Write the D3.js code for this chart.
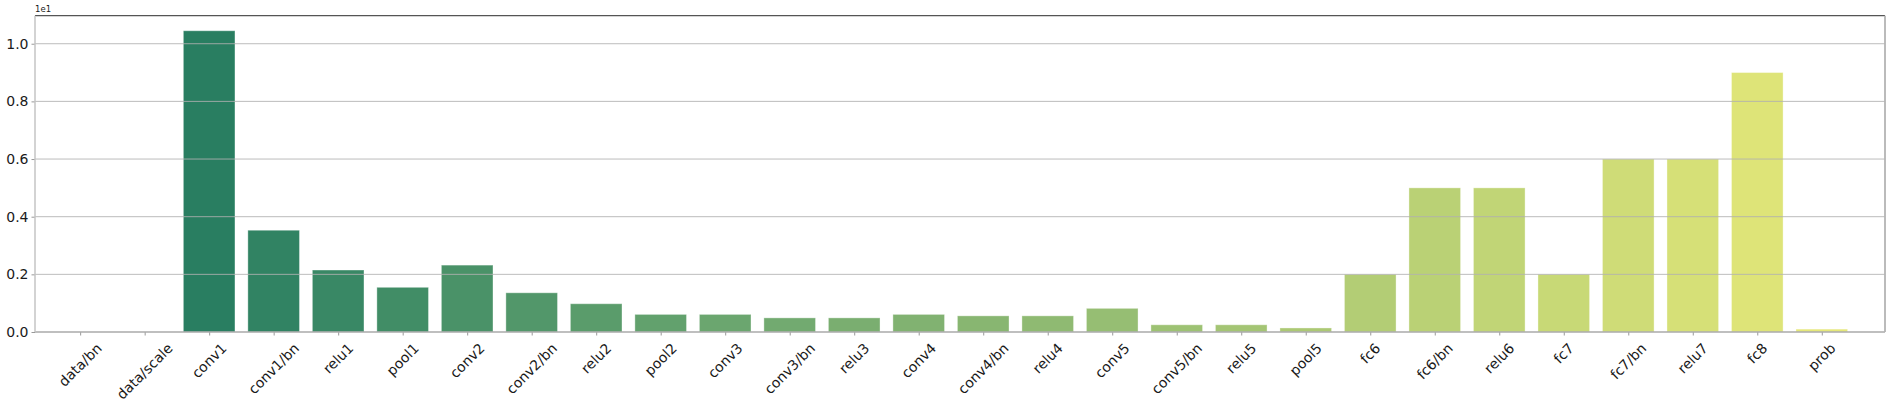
<!DOCTYPE html>
<html>
<head>
<meta charset="utf-8">
<script src="https://cdn.jsdelivr.net/npm/d3@7"></script>
<style>
  body { margin: 0; background: #fff; }
  text { font-family: "DejaVu Sans", sans-serif; fill: #1a1a1a; }
</style>
</head>
<body>
<svg id="bar-plot" width="1889" height="408"></svg>
<script>
"use strict";

// layer names along the x axis
const layers = ["data/bn", "data/scale", "conv1", "conv1/bn", "relu1", "pool1",
  "conv2", "conv2/bn", "relu2", "pool2", "conv3", "conv3/bn", "relu3",
  "conv4", "conv4/bn", "relu4", "conv5", "conv5/bn", "relu5", "pool5",
  "fc6", "fc6/bn", "relu6", "fc7", "fc7/bn", "relu7", "fc8", "prob"];

// bar heights (real units, axis shows them scaled by 1e1)
const values = [0, 0, 10.45, 3.53, 2.15, 1.55,
  2.32, 1.36, 0.98, 0.61, 0.61, 0.49, 0.49,
  0.61, 0.56, 0.56, 0.82, 0.25, 0.25, 0.14,
  2.0, 5.0, 5.0, 2.0, 6.0, 6.0, 9.0, 0.1];

// y ticks and their labels
const yTicks = [0, 2, 4, 6, 8, 10];
const yTickLabels = ["0.0", "0.2", "0.4", "0.6", "0.8", "1.0"];
const offsetLabel = "1e1";

var graph = {};
graph.svg = d3.select("#bar-plot");
graph.box = { left: 35, right: 1885, top: 15.7, bottom: 332 };

var x = d3.scaleLinear()
  .domain([-0.7, 27.98])
  .range([graph.box.left, graph.box.right]);

var y = d3.scaleLinear()
  .domain([0, d3.max(values) * 1.05])
  .range([graph.box.bottom, graph.box.top]);

// summer colormap, desaturated like seaborn does
function summer(t) {
  let c = d3.hsl(d3.rgb(255 * t, 255 * (0.5 + 0.5 * t), 255 * 0.4));
  c.s *= 0.75;
  return c.formatHex();
}
var colors = layers.map((d, i) => summer((i + 1) / (layers.length + 1)));

// bars
graph.svg.append("g")
  .attr("class", "bars")
  .selectAll("rect")
  .data(values)
  .enter()
  .append("rect")
  .attr("x", (d, i) => x(i - 0.4))
  .attr("width", x(0.8) - x(0))
  .attr("y", d => y(d))
  .attr("height", d => y(0) - y(d))
  .attr("fill", (d, i) => colors[i])
  .attr("stroke", "#ffffff")
  .attr("stroke-opacity", 0.35)
  .attr("stroke-width", 1);

// horizontal grid, drawn over the bars
graph.svg.append("g")
  .attr("class", "grid")
  .selectAll("line")
  .data(yTicks.slice(1))
  .enter()
  .append("line")
  .attr("x1", graph.box.left)
  .attr("x2", graph.box.right)
  .attr("y1", d => y(d))
  .attr("y2", d => y(d))
  .attr("stroke", "#b0b0b0")
  .attr("stroke-opacity", 0.85)
  .attr("stroke-width", 1);

// y axis
var yAxis = d3.axisLeft(y)
  .tickValues(yTicks)
  .tickSize(3.5)
  .tickPadding(3)
  .tickFormat((d, i) => yTickLabels[i]);

graph.gY = graph.svg.append("g")
  .attr("class", "axis axis--y")
  .attr("transform", "translate(" + graph.box.left + ",0)")
  .call(yAxis);
graph.gY.select(".domain").remove();
graph.gY.selectAll(".tick line").attr("stroke", "#999");
graph.gY.selectAll(".tick text")
  .style("font-size", "14px")
  .attr("fill", "#1a1a1a");

// x axis with rotated labels
var xAxis = d3.axisBottom(x)
  .tickValues(d3.range(layers.length))
  .tickSize(3.5)
  .tickFormat("");

graph.gX = graph.svg.append("g")
  .attr("class", "axis axis--x")
  .attr("transform", "translate(0," + graph.box.bottom + ")")
  .call(xAxis);
graph.gX.select(".domain").remove();
graph.gX.selectAll(".tick line").attr("stroke", "#999");

var fs = 14, lineH = fs * 1.164, labelTop = graph.box.bottom + 8;
graph.svg.append("g")
  .attr("class", "x-labels")
  .selectAll("text")
  .data(layers)
  .enter()
  .append("text")
  .style("font-size", fs + "px")
  .attr("text-anchor", "middle")
  .attr("dy", "0.346em")
  .text(d => d)
  .attr("transform", function(d, i) {
    let w = this.getComputedTextLength();
    let h = (w + lineH) * Math.SQRT1_2;
    return "translate(" + x(i) + "," + (labelTop + h / 2) + ") rotate(-45)";
  });

// spines
graph.svg.append("line")
  .attr("x1", graph.box.left).attr("x2", graph.box.right)
  .attr("y1", graph.box.top).attr("y2", graph.box.top)
  .attr("stroke", "#555").attr("stroke-width", 1.2);
graph.svg.append("line")
  .attr("x1", graph.box.left).attr("x2", graph.box.right)
  .attr("y1", graph.box.bottom).attr("y2", graph.box.bottom)
  .attr("stroke", "#aaa").attr("stroke-width", 1.5);
graph.svg.append("line")
  .attr("x1", graph.box.left).attr("x2", graph.box.left)
  .attr("y1", graph.box.top).attr("y2", graph.box.bottom)
  .attr("stroke", "#c4c4c4").attr("stroke-width", 1.5);
graph.svg.append("line")
  .attr("x1", graph.box.right).attr("x2", graph.box.right)
  .attr("y1", graph.box.top).attr("y2", graph.box.bottom)
  .attr("stroke", "#b4b4b4").attr("stroke-width", 1.8);

// offset text above the y axis
graph.svg.append("text")
  .attr("x", graph.box.left)
  .attr("y", graph.box.top - 3.5)
  .style("font-size", "8.5px")
  .attr("fill", "#333")
  .text(offsetLabel);
</script>
</body>
</html>
